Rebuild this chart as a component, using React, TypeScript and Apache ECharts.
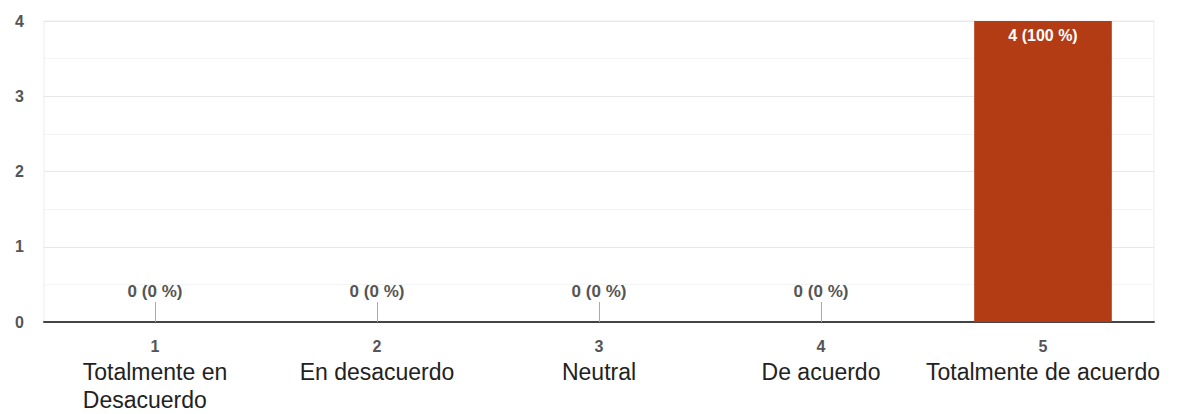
import React, { useEffect, useRef } from "react";
import * as echarts from "echarts";

const categoryNumbers = ["1", "2", "3", "4", "5"];
const categoryNames = [
  "Totalmente en\nDesacuerdo",
  "En desacuerdo",
  "Neutral",
  "De acuerdo",
  "Totalmente de acuerdo",
];
const responseCounts = [0, 0, 0, 0, 4];
const yTicks = [0, 1, 2, 3, 4];

const FONT = "'Liberation Sans', Arial, sans-serif";

export default function App() {
  const ref = useRef<HTMLDivElement>(null);
  useEffect(() => {
    if (!ref.current) return;
    const chart = echarts.init(ref.current, undefined, { renderer: "svg" });
    const total = responseCounts.reduce((a, b) => a + b, 0);
    const fmt = (v: number) => `${v} (${total ? Math.round((v / total) * 100) : 0} %)`;
    const data = responseCounts.map((v) => ({
      value: v,
      label:
        v > 0
          ? { position: "insideTop", distance: 6, color: "#ffffff", fontSize: 16 }
          : { position: "top", distance: 22, color: "#555555", fontSize: 17 },
    }));
    chart.setOption({
      animation: false,
      textStyle: { fontFamily: FONT },
      grid: {
        left: 44,
        right: 24,
        top: 21,
        bottom: 92,
        show: true,
        borderColor: "#ececec",
        borderWidth: 1,
      },
      xAxis: {
        type: "category",
        data: categoryNumbers,
        axisLine: { show: true, lineStyle: { color: "#444", width: 2 } },
        axisTick: {
          show: true,
          inside: true,
          length: 20,
          alignWithLabel: true,
          lineStyle: { color: "#aaa", width: 1 },
        },
        axisLabel: {
          interval: 0,
          margin: 12,
          formatter: (val: string, idx: number) => {
            const lines = categoryNames[idx].split("\n").map((l) => `{t|${l}}`);
            return `{n|${val}}\n` + lines.join("\n");
          },
          rich: {
            n: {
              fontSize: 16,
              fontWeight: "bold",
              color: "#555",
              lineHeight: 24,
              align: "center",
              fontFamily: FONT,
            },
            t: {
              fontSize: 23,
              color: "#222",
              lineHeight: 28,
              align: "left",
              fontFamily: FONT,
            },
          },
        },
      },
      yAxis: {
        type: "value",
        min: yTicks[0],
        max: yTicks[yTicks.length - 1],
        interval: 1,
        axisLine: { show: false },
        axisTick: { show: false },
        axisLabel: {
          margin: 20,
          fontSize: 16,
          fontWeight: "bold",
          color: "#555",
          fontFamily: FONT,
        },
        splitLine: { show: true, lineStyle: { color: "#e8e8e8" } },
        minorTick: { show: false, splitNumber: 2 },
        minorSplitLine: { show: true, lineStyle: { color: "#f4f4f4" } },
      },
      series: [
        {
          type: "bar",
          data,
          barWidth: "62%",
          itemStyle: { color: "#b33c15" },
          label: {
            show: true,
            fontWeight: "bold",
            fontFamily: FONT,
            formatter: (p: any) => fmt(p.value),
          },
          z: 3,
        },
      ],
    });
    return () => chart.dispose();
  }, []);
  return (
    <div
      ref={ref}
      style={{ position: "absolute", left: 0, top: 0, width: 1178, height: 414 }}
    />
  );
}
